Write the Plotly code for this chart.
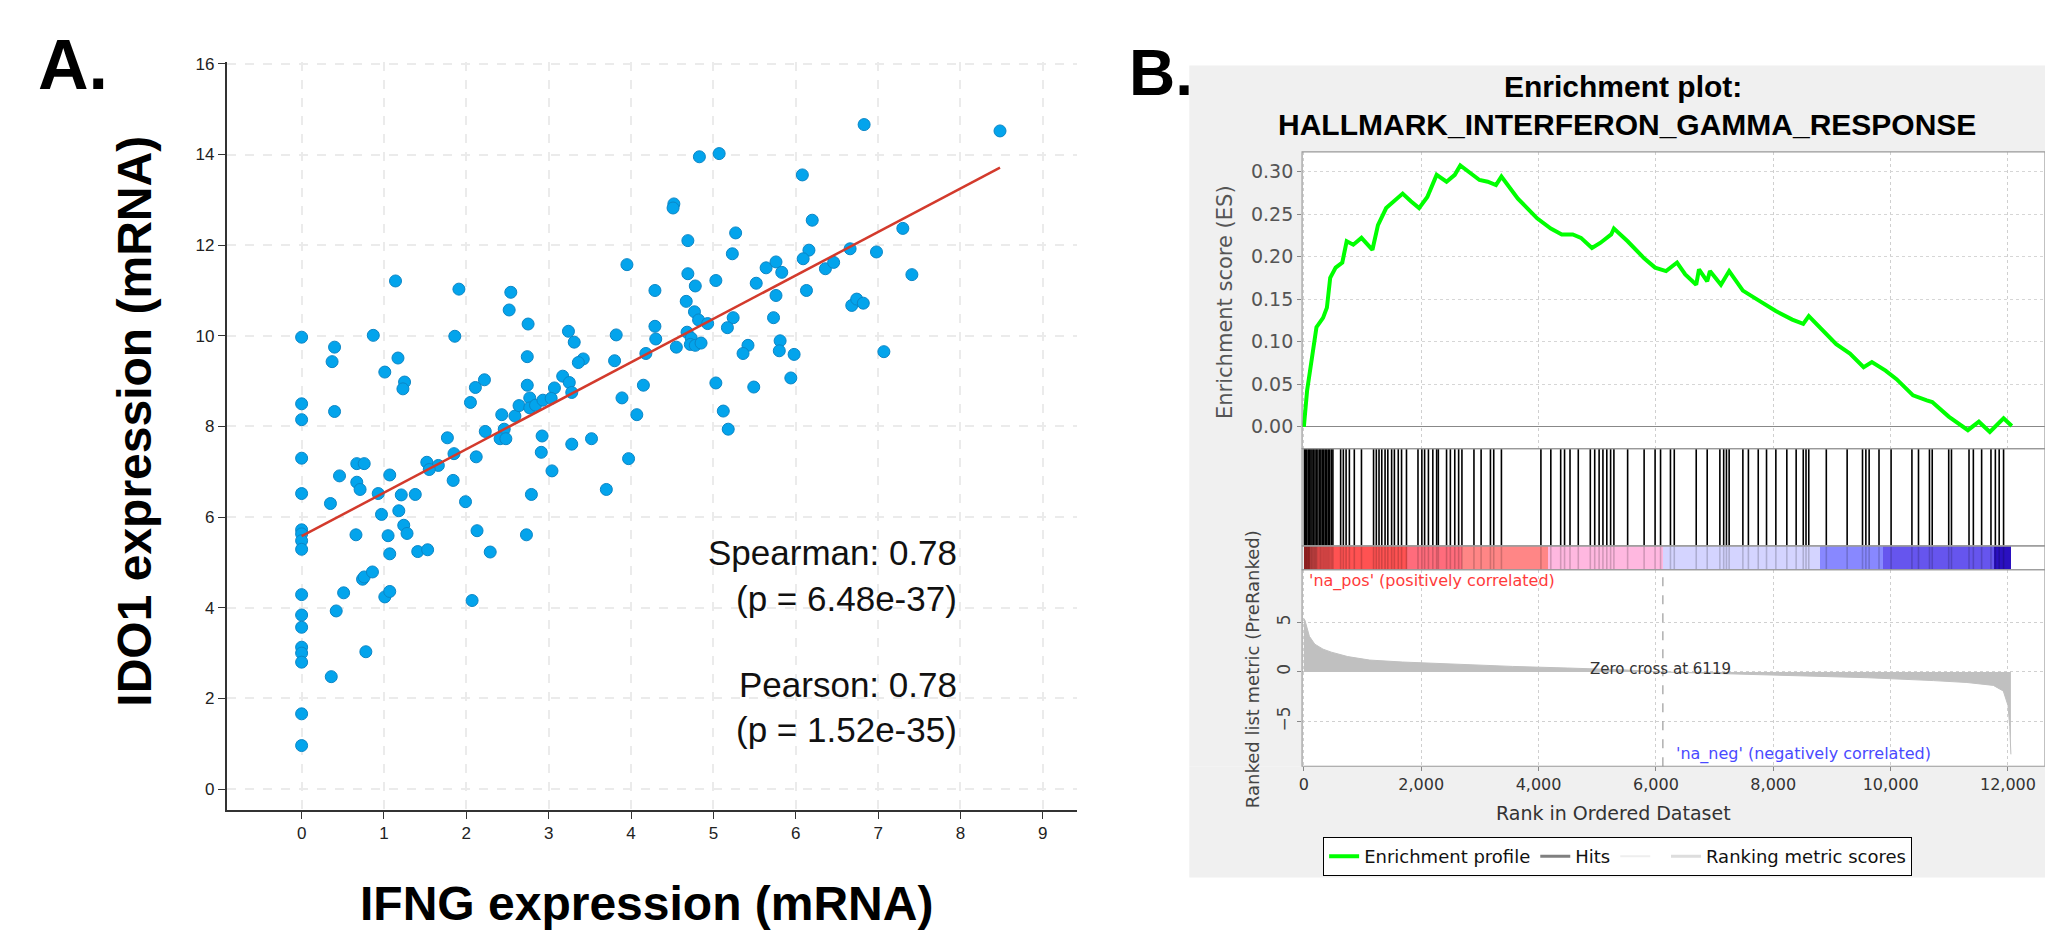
import plotly.graph_objects as go

W, H = 2045, 933
FONT = "Liberation Sans, Arial, sans-serif"
JFONT = "DejaVu Sans, sans-serif"

# ---- panel A: IFNG vs IDO1 expression ----
ifng = [0, 0, 0, 0, 0.40, 0.37, 0.40, 0.87, 1.14, 1.17, 1.01, 1.25, 1.23, 1.91, 1.86,
        2.54, 2.52, 2.75, 2.74, 3.24, 3.31, 3.42, 3.36, 3.17, 3.25, 3.28, 3.07, 2.74,
        2.11, 2.22, 2.05, 2.43, 2.59, 2.64, 2.77, 2.77, 2.84, 2.93, 3.03, 2.46, 2.41,
        2.48, 2.23, 1.77, 1.85, 2.12, 1.52, 1.66, 2.92, 2.91, 3.28, 3.52, 3.04, 3.89,
        4.07, 3.97, 4.15, 3.95, 3.82, 3.80, 4.18, 4.29, 4.30, 4.29, 4.52, 4.51, 4.69,
        4.69, 4.78, 4.67, 4.77, 4.82, 4.68, 4.93, 4.73, 4.55, 4.72, 4.78, 4.85, 4.83,
        5.07, 5.03, 5.23, 5.27, 5.52, 5.64, 5.76, 5.83, 5.76, 5.73, 5.24, 5.17, 5.42,
        5.36, 5.81, 5.80, 5.98, 5.03, 5.49, 5.94, 5.12, 5.18, 6.08, 6.20, 6.16, 6.09,
        6.13, 6.36, 6.46, 6.66, 6.83, 6.68, 6.74, 6.82, 6.98, 7.07, 7.30, 7.41, 8.48,
        0, 0, 0, 0, 0, 0, 0, 0, 0, 0, 0, 0, 0,
        0.35, 0.46, 0.67, 0.76, 0.67, 0.71, 0.66, 0.93, 0.97, 1.07, 1.21, 1.38, 1.18,
        1.24, 1.28, 1.05, 1.07, 1.41, 1.53, 1.55, 1.84, 1.99, 2.13, 2.29, 2.73, 2.79,
        3.70, 0.74, 0.76, 0.86, 0.51, 0.42, 0.78, 0.36, 1.01, 1.07, 2.07]
ido1 = [9.97, 8.50, 8.15, 7.30, 9.75, 9.43, 8.33, 10.01, 11.21, 9.51, 9.20, 8.98, 8.83,
        11.03, 9.99, 10.96, 10.57, 10.26, 9.54, 10.10, 9.86, 9.49, 9.41, 9.11, 8.97,
        8.75, 8.85, 8.91, 8.86, 9.03, 8.53, 8.26, 8.23, 8.46, 8.63, 8.41, 8.47, 8.58,
        8.62, 7.94, 7.73, 7.73, 7.89, 7.75, 7.40, 7.33, 7.21, 7.14, 7.79, 7.43, 7.61,
        7.73, 7.02, 8.63, 8.26, 7.29, 8.91, 11.57, 10.02, 9.45, 9.61, 10.21, 9.93,
        11.00, 12.91, 12.82, 12.10, 11.37, 11.10, 10.76, 10.53, 10.35, 10.08, 10.27,
        9.95, 9.75, 9.81, 9.79, 9.84, 13.95, 14.02, 11.22, 11.81, 12.27, 11.16, 11.50,
        11.63, 11.40, 10.89, 10.40, 10.40, 10.18, 9.79, 9.61, 9.89, 9.67, 9.59, 8.96,
        8.87, 9.07, 8.34, 7.94, 13.55, 12.55, 11.89, 11.70, 11.00, 11.48, 11.62, 11.92,
        14.66, 10.67, 10.81, 10.72, 11.85, 9.65, 12.37, 11.35, 14.52,
        6.52, 5.72, 5.63, 5.48, 5.29, 4.29, 3.84, 3.57, 3.13, 3.00, 2.80, 1.66, 0.96,
        6.30, 6.91, 7.18, 7.18, 6.77, 6.61, 5.61, 6.52, 6.06, 6.93, 6.49, 6.50, 6.14,
        5.82, 5.64, 5.59, 5.19, 5.24, 5.28, 7.05, 6.81, 6.34, 5.70, 5.23, 5.61, 6.50,
        6.61, 4.63, 4.68, 4.79, 4.33, 3.93, 3.03, 2.48, 4.24, 4.36, 4.16]
fit_x = [0, 8.48]
fit_y = [5.58, 13.71]
stats_lines = ["Spearman: 0.78", "(p = 6.48e-37)", "Pearson: 0.78", "(p = 1.52e-35)"]

# ---- panel B: GSEA enrichment plot ----
es_rank = [0, 56, 140, 215, 327, 393, 449, 542, 655, 730, 842, 982, 1169, 1263, 1403,
           1543, 1684, 1824, 1964, 2104, 2263, 2432, 2572, 2666, 2806, 2993, 3133, 3274,
           3367, 3648, 3975, 4209, 4396, 4583, 4723, 4910, 5051, 5238, 5284, 5518, 5799,
           5986, 6173, 6360, 6500, 6687, 6734, 6874, 6921, 7108, 7248, 7482, 7763, 8043,
           8324, 8511, 8605, 8839, 9073, 9307, 9540, 9681, 9914, 10101, 10382, 10616,
           10709, 10990, 11317, 11504, 11691, 11925, 12065]
es_val = [0, 0.043, 0.082, 0.117, 0.128, 0.140, 0.175, 0.187, 0.193, 0.218, 0.214, 0.222,
          0.208, 0.237, 0.257, 0.265, 0.274, 0.265, 0.257, 0.270, 0.296, 0.288, 0.296,
          0.307, 0.300, 0.290, 0.288, 0.284, 0.294, 0.268, 0.245, 0.233, 0.226, 0.226,
          0.222, 0.210, 0.216, 0.226, 0.233, 0.218, 0.198, 0.187, 0.183, 0.193, 0.179,
          0.167, 0.185, 0.171, 0.183, 0.167, 0.183, 0.160, 0.148, 0.136, 0.126, 0.121,
          0.130, 0.113, 0.097, 0.086, 0.070, 0.076, 0.066, 0.056, 0.037, 0.031, 0.029,
          0.012, -0.004, 0.006, -0.006, 0.010, 0.001]
hit_rank = [10, 30, 50, 75, 95, 120, 140, 165, 190, 215, 240, 270, 290, 315, 340, 365,
            390, 415, 440, 470, 495, 627, 673, 720, 776, 860, 982, 1188, 1235, 1281,
            1328, 1384, 1431, 1496, 1543, 1609, 1665, 1749, 1945, 2011, 2058, 2123, 2198,
            2263, 2292, 2432, 2497, 2572, 2638, 2694, 2899, 3021, 3180, 3236, 3367, 4040,
            4209, 4377, 4443, 4536, 4677, 4882, 4957, 5032, 5097, 5163, 5228, 5284, 5518,
            5799, 5986, 6079, 6248, 6313, 6687, 6874, 7090, 7155, 7202, 7248, 7482, 7576,
            7744, 7885, 8044, 8231, 8390, 8511, 8558, 8605, 8904, 9259, 9521, 9578, 9634,
            9802, 10008, 10363, 10475, 10662, 10709, 10990, 11037, 11336, 11410, 11551,
            11710, 11785, 11850, 11925]
band_edges = [0, 110, 234, 1766, 2700, 4162, 6126, 8792, 9867, 11766, 12046]
band_colors = ["#b52a2a", "#d84848", "#ff5252", "#ff6c7c", "#ff8686", "#ffb8e0",
               "#d4d4ff", "#8888ff", "#6655ee", "#2a10c0"]
metric_rank = [0, 19, 94, 187, 327, 468, 748, 1122, 1684, 2619, 3554, 4489, 5425, 6119,
               7335, 8130, 9610, 10730, 11300, 11750, 11920, 12000, 12030, 12050]
metric_val = [5.4, 5.2, 3.6, 2.8, 2.3, 2.0, 1.55, 1.2, 1.0, 0.76, 0.56, 0.40, 0.22, 0.0,
              -0.22, -0.38, -0.58, -0.87, -1.06, -1.35, -1.92, -3.37, -5.5, -8.3]
zero_cross = 6119
rank_ticks = [0, 2000, 4000, 6000, 8000, 10000, 12000]
es_ticks = [0, 0.05, 0.10, 0.15, 0.20, 0.25, 0.30]
metric_ticks = [-5, 0, 5]


def px(x):
    return x / W


def py(y):
    return 1 - y / H


fig = go.Figure()

# panel A
fig.add_trace(go.Scatter(
    x=ifng, y=ido1, mode="markers", showlegend=False,
    marker=dict(size=12, color="#03a4ec", line=dict(color="#0b86c6", width=1)),
    xaxis="x", yaxis="y",
))
fig.add_trace(go.Scatter(
    x=fit_x, y=fit_y, mode="lines", showlegend=False,
    line=dict(color="#d33a2c", width=2.5), xaxis="x", yaxis="y",
))

# panel B: enrichment score
fig.add_trace(go.Scatter(
    x=es_rank, y=es_val, mode="lines", name="Enrichment profile",
    line=dict(color="#00ff00", width=4), xaxis="x2", yaxis="y2",
))

# hits
hx, hy = [], []
for r in hit_rank:
    hx += [r, r, None]
    hy += [0, 1, None]
fig.add_trace(go.Scatter(x=hx, y=hy, mode="lines", showlegend=False,
                         line=dict(color="black", width=1.6), xaxis="x3", yaxis="y3"))

# ranked colour bar
mids = [(a + b) / 2 for a, b in zip(band_edges[:-1], band_edges[1:])]
widths = [b - a for a, b in zip(band_edges[:-1], band_edges[1:])]
fig.add_trace(go.Bar(x=mids, y=[1] * len(mids), width=widths, marker_color=band_colors,
                     marker_line_width=0, showlegend=False, xaxis="x4", yaxis="y4"))
fig.add_trace(go.Scatter(x=hx, y=hy, mode="lines", showlegend=False,
                         line=dict(color="rgba(0,0,0,0.18)", width=1.6),
                         xaxis="x4", yaxis="y4"))

# ranked list metric
fig.add_trace(go.Scatter(
    x=metric_rank, y=metric_val, mode="lines", fill="tozeroy", showlegend=False,
    fillcolor="#c0c0c0", line=dict(color="#c0c0c0", width=1), xaxis="x2", yaxis="y5",
))

# legend-only entries
fig.add_trace(go.Scatter(x=[None], y=[None], mode="lines", name="Hits",
                         line=dict(color="#808080", width=3), xaxis="x2", yaxis="y2"))
fig.add_trace(go.Scatter(x=[None], y=[None], mode="lines", name=" ",
                         line=dict(color="#eeeeee", width=2), xaxis="x2", yaxis="y2"))
fig.add_trace(go.Scatter(x=[None], y=[None], mode="lines", name="Ranking metric scores",
                         line=dict(color="#dddddd", width=3), xaxis="x2", yaxis="y2"))

grid_a = dict(showgrid=True, gridcolor="#ebebeb", griddash="dash", gridwidth=1.5,
              zeroline=False, showline=True, linecolor="#333", linewidth=1.5,
              ticks="outside", ticklen=7, tickcolor="#333",
              tickfont=dict(family=FONT, size=17, color="#222"))
bx_range = [-30, 12631]
hidden_x = dict(domain=[px(1301), 1], range=bx_range, showgrid=False, zeroline=False,
                showticklabels=False, ticks="")
hidden_y = dict(range=[0, 1], showgrid=False, zeroline=False, showticklabels=False,
                ticks="", fixedrange=True)

fig.update_layout(
    width=W, height=H, margin=dict(l=0, r=0, t=0, b=0),
    paper_bgcolor="white", plot_bgcolor="white",
    font=dict(family=FONT),
    bargap=0,
    xaxis=dict(domain=[px(224), px(1076)], anchor="y", range=[-0.91, 9.42],
               tickvals=list(range(10)), **grid_a),
    yaxis=dict(domain=[py(809), py(55)], anchor="x", range=[-0.46, 16.05],
               tickvals=list(range(0, 17, 2)), **grid_a),
    xaxis2=dict(domain=[px(1301), 1], anchor="y5", range=bx_range, tickvals=rank_ticks,
                tickformat=",d", showgrid=True, gridcolor="#cfcfcf", griddash="dot",
                zeroline=False, ticks="outside", ticklen=4, tickcolor="#888",
                tickfont=dict(family=JFONT, size=16, color="#333")),
    yaxis2=dict(domain=[py(445), py(146)], anchor="x2", range=[-0.0257, 0.323],
                tickvals=es_ticks, tickformat=".2f", showgrid=True, gridcolor="#d6d6d6",
                griddash="dot", zeroline=True, zerolinecolor="#888", zerolinewidth=1,
                ticks="outside", ticklen=4, tickcolor="#888",
                tickfont=dict(family=JFONT, size=19, color="#555")),
    xaxis3=dict(anchor="y3", **hidden_x),
    yaxis3=dict(domain=[py(543), py(445)], anchor="x3", **hidden_y),
    xaxis4=dict(anchor="y4", **hidden_x),
    yaxis4=dict(domain=[py(567), py(543)], anchor="x4", **hidden_y),
    yaxis5=dict(domain=[py(765), py(567)], anchor="x2", range=[-9.5, 10.3],
                tickvals=metric_ticks, tickangle=-90, showgrid=True, gridcolor="#d0d0d0",
                griddash="dot", zeroline=False, ticks="outside", ticklen=4,
                tickcolor="#888", tickfont=dict(family=JFONT, size=17, color="#444")),
    legend=dict(orientation="h", x=px(1617), xanchor="center", y=py(856),
                yanchor="middle", bgcolor="white", bordercolor="black", borderwidth=1,
                font=dict(family=JFONT, size=18, color="#111"), itemwidth=30,
                tracegroupgap=0),
)

# grey frame of the GSEA screenshot (around the white plot area)
for x0, y0, x1, y1 in [(1188, 59, W, 146), (1188, 146, 1301, 765), (1188, 765, W, 877)]:
    fig.add_shape(type="rect", xref="paper", yref="paper", x0=px(x0), x1=px(x1),
                  y0=py(y1), y1=py(y0), fillcolor="#f0f0f0", line_width=0, layer="below")

# panel borders
for xa, ya in [("x2", "y2"), ("x3", "y3"), ("x4", "y4"), ("x2", "y5")]:
    fig.add_shape(type="rect", xref=f"{xa} domain", yref=f"{ya} domain",
                  x0=0, x1=1, y0=0, y1=1, line=dict(color="#999", width=1.2))

fig.add_shape(type="line", xref="x2", yref="y5 domain", x0=zero_cross, x1=zero_cross,
              y0=0, y1=1, line=dict(color="#888", width=1, dash="dash"))


def note(text, x, y, size, color="black", bold=False, xanchor="center", angle=0,
         family=FONT):
    fig.add_annotation(text=f"<b>{text}</b>" if bold else text, xref="paper", yref="paper",
                       x=px(x), y=py(y), xanchor=xanchor, yanchor="middle",
                       showarrow=False, textangle=angle,
                       font=dict(family=family, size=size, color=color))


note("A.", 70, 58, 70, bold=True)
note("B.", 1160, 66, 64, bold=True)
note("IDO1 expression (mRNA)", 132, 417, 48, bold=True, angle=-90)
note("IFNG expression (mRNA)", 644, 903, 48, bold=True)
for text, y in zip(stats_lines, [550, 596, 683, 728]):
    note(text, 957, y, 35, color="#111", xanchor="right")

note("Enrichment plot:", 1622, 80, 30, bold=True)
note("HALLMARK_INTERFERON_GAMMA_RESPONSE", 1626, 118, 30, bold=True)
note("Enrichment score (ES)", 1224, 297, 21, color="#555", angle=-90, family=JFONT)
note("Ranked list metric (PreRanked)", 1252, 667, 18, color="#444", angle=-90,
     family=JFONT)
note("Rank in Ordered Dataset", 1613, 812, 19, color="#333", family=JFONT)
note(f"Zero cross at {zero_cross}", 1660, 667, 15, color="#333", family=JFONT)
note("'na_pos' (positively correlated)", 1306, 578, 16, color="#ff3b3b", xanchor="left",
     family=JFONT)
note("'na_neg' (negatively correlated)", 1673, 753, 16, color="#4a4aff", xanchor="left",
     family=JFONT)

fig.write_html(
    "out.html",
    config={"displayModeBar": False},
    post_script="document.body.style.margin='0';document.body.style.overflow='hidden';",
)
